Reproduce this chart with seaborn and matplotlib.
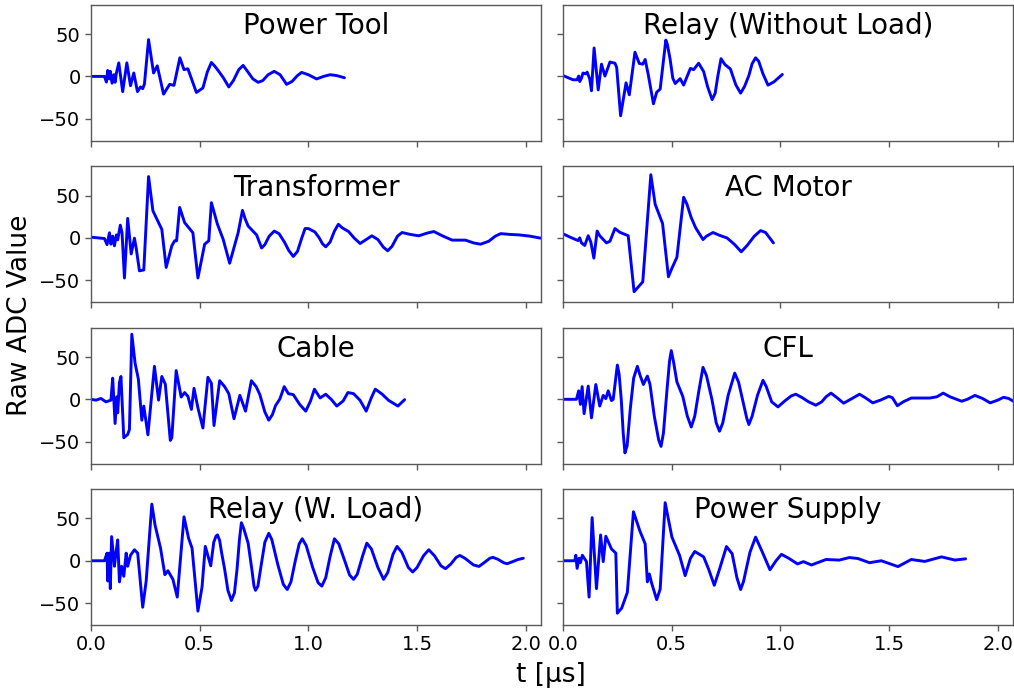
import matplotlib
matplotlib.use("Agg")
import matplotlib.pyplot as plt
import seaborn as sns
import numpy as np

# ---------------- data ----------------
titles = ["Power Tool", "Relay (Without Load)", "Transformer", "AC Motor",
          "Cable", "CFL", "Relay (W. Load)", "Power Supply"]

power_tool_t = [0, 0.062, 0.071, 0.077, 0.085, 0.089, 0.097, 0.105, 0.111, 0.117, 0.128, 0.146,
                0.165, 0.182, 0.197, 0.214, 0.228, 0.238, 0.246, 0.265, 0.288, 0.305, 0.334,
                0.362, 0.382, 0.409, 0.428, 0.446, 0.485, 0.515, 0.535, 0.554, 0.57, 0.585,
                0.61, 0.634, 0.655, 0.68, 0.70, 0.72, 0.745, 0.769, 0.79, 0.815, 0.843,
                0.87, 0.90, 0.925, 0.95, 0.969, 1.0, 1.038, 1.07, 1.10, 1.13, 1.166]
power_tool_y = [0, 0, -6.7, 7, -3, 6, -8, 2, -7, 4, 16, -18,
                16, -11, 4, -18, -12.5, -14.5, -9, 43.5, 4, 12.5, -21,
                -9.4, -10.6, 22, 8, 9, -19, -13.7, 5, 16.5, 12, 7,
                -2, -12.5, -5, 8, 13, 6, -3, -7, -5, 2, 6,
                2, -9.4, -6, 1, 4.7, 2, -3, 0, 2, 1, -1.6]

relay_nl_t = [0, 0.023, 0.046, 0.065, 0.072, 0.077, 0.085, 0.092, 0.105, 0.111, 0.123, 0.131,
              0.143, 0.162, 0.177, 0.193, 0.216, 0.239, 0.247, 0.265, 0.29, 0.305, 0.331,
              0.351, 0.367, 0.378, 0.393, 0.416, 0.431, 0.447, 0.473, 0.48, 0.493, 0.505,
              0.516, 0.539, 0.555, 0.586, 0.601, 0.624, 0.647, 0.665, 0.686, 0.70, 0.712,
              0.727, 0.745, 0.77, 0.795, 0.817, 0.835, 0.855, 0.87, 0.886, 0.90, 0.92,
              0.943, 0.97, 1.009]
relay_nl_y = [1, -1.5, -4, -4, 0.4, -6, -2, 4, 3, 5, -3, -17,
              33.6, -16, 14.5, 0.4, 17, 15.6, 10.5, -46.6, -7.6, -21.8, 28.6,
              15.3, 14.5, 20, 1, -32.4, -18.7, -15, 43, 38, 20, -2,
              -8.4, -2.7, -10.3, 9.5, 8, 15.6, 5.7, -12, -27.5, -20, 0,
              21, 14, 8.8, -10, -19.8, -12, 1, 15, 22, 18, 3,
              -10.3, -6.5, 2.3]

transformer_t = [0, 0.062, 0.074, 0.085, 0.092, 0.1, 0.108, 0.117, 0.123, 0.135, 0.143, 0.154,
                 0.169, 0.185, 0.2, 0.208, 0.223, 0.243, 0.265, 0.285, 0.326, 0.346, 0.372,
                 0.385, 0.394, 0.408, 0.431, 0.469, 0.492, 0.523, 0.542, 0.554, 0.582, 0.608,
                 0.638, 0.677, 0.697, 0.71, 0.723, 0.745, 0.762, 0.785, 0.80, 0.82, 0.843,
                 0.865, 0.89, 0.91, 0.931, 0.95, 0.97, 0.985, 1.0, 1.03, 1.05, 1.065,
                 1.08, 1.10, 1.12, 1.138, 1.155, 1.185, 1.21, 1.238, 1.26, 1.292, 1.32,
                 1.345, 1.365, 1.385, 1.41, 1.431, 1.47, 1.508, 1.545, 1.577, 1.62, 1.662,
                 1.723, 1.76, 1.792, 1.83, 1.86, 1.885, 1.93, 1.969, 2.02, 2.069]
transformer_y = [0.8, -0.8, -8, 6, -7.5, 2, -9.4, 3.5, -2.4, 15, 6, -47.5,
                 23, -19, -0.4, -12, -39, -38, 72.5, 32, 10, -35, -9.4,
                 -3.5, -3.5, 36, 18, 6, -47.5, -7.5, -3.5, 41.6, 16, -1.6,
                 -30, 6, 32.5, 22, 14, 8, 3.5, -12, -8, 2, 8,
                 5, -5, -15, -22, -16, 0, 11, 11, 7, 0, -7,
                 -10.6, -5, 8, 16, 12, 7.5, 0, -6.7, -3, 2.4, -2,
                 -11, -15.3, -10, 2, 6.3, 4, 2.4, 5.5, 7.5, 2, -2.7,
                 -2.7, -6, -7.5, -4, 2, 5, 4, 3.5, 2, -0.4]

ac_motor_t = [0, 0.031, 0.069, 0.077, 0.085, 0.1, 0.116, 0.128, 0.142, 0.157, 0.169, 0.2,
              0.216, 0.239, 0.262, 0.30, 0.327, 0.367, 0.404, 0.424, 0.458, 0.485, 0.501,
              0.524, 0.555, 0.57, 0.589, 0.61, 0.644, 0.66, 0.69, 0.72, 0.755, 0.79,
              0.82, 0.847, 0.88, 0.909, 0.932, 0.968]
ac_motor_y = [4.8, 1, -3.2, 0, -6, -9, 2.5, -5, -24, 8, 2.5, -6,
              -4, 11, 6.5, 2.5, -63.7, -52, 74.7, 39.7, 17, -46, -36,
              -23, 48, 40, 24.5, 12, -2, 2, 6.3, 3, -0.2, -8,
              -16.5, -9, 2, 8.6, 6.3, -6]

cable_t = [0, 0.023, 0.046, 0.069, 0.092, 0.1, 0.111, 0.119, 0.123, 0.131, 0.138, 0.151,
           0.169, 0.177, 0.188, 0.203, 0.218, 0.234, 0.243, 0.262, 0.292, 0.311, 0.326,
           0.342, 0.365, 0.372, 0.392, 0.415, 0.431, 0.446, 0.462, 0.474, 0.492, 0.515,
           0.538, 0.554, 0.566, 0.592, 0.615, 0.634, 0.658, 0.685, 0.711, 0.738, 0.76,
           0.777, 0.80, 0.818, 0.835, 0.849, 0.869, 0.889, 0.908, 0.931, 0.96, 0.988,
           1.01, 1.028, 1.054, 1.08, 1.105, 1.131, 1.16, 1.182, 1.208, 1.238, 1.266,
           1.29, 1.308, 1.34, 1.369, 1.412, 1.443]
cable_y = [0, -1, 1, -3, -1, 25, -28.6, 3, -16, 20, 27, -45.5,
           -41.6, -35.7, 77, 42.7, 24, -24.7, -8, -42, 39, -1, 27,
           18, -48.6, -45.5, 34, 2.7, 8, 3.5, -12, 13, -10, -34,
           26, 19, -31, 22, 15, 6.7, -23, 4.7, -14, 22, 15,
           5.5, -15, -24.7, -18, -7.5, 0.4, 15, 6.7, 5.5, -6, -14,
           -2, 12, 1.6, 6, 0, -8, -2, 8, 6.7, -1.2, -14,
           2, 12, 6, -1.2, -8, -0.4]

cfl_t = [0, 0.062, 0.072, 0.08, 0.088, 0.097, 0.116, 0.131, 0.151, 0.169, 0.185, 0.197,
         0.208, 0.223, 0.231, 0.25, 0.258, 0.268, 0.277, 0.285, 0.295, 0.31, 0.325,
         0.342, 0.355, 0.37, 0.388, 0.40, 0.42, 0.44, 0.451, 0.462, 0.478, 0.49,
         0.498, 0.508, 0.524, 0.551, 0.572, 0.59, 0.606, 0.625, 0.644, 0.66, 0.685,
         0.705, 0.72, 0.735, 0.76, 0.79, 0.808, 0.83, 0.845, 0.855, 0.87, 0.895,
         0.92, 0.935, 0.96, 0.989, 1.02, 1.05, 1.071, 1.10, 1.13, 1.163, 1.19,
         1.21, 1.233, 1.26, 1.291, 1.33, 1.364, 1.39, 1.425, 1.46, 1.498, 1.515,
         1.538, 1.565, 1.602, 1.687, 1.72, 1.749, 1.78, 1.834, 1.86, 1.895, 1.93,
         1.965, 2.0, 2.026, 2.05, 2.072]
cfl_y = [0, 0, 10, -6, 15, -17, 15.6, -22, 17.5, -8, 4.6, 0.8,
         10, -1.5, 0, 40.5, 30, 0, -40, -63.4, -55, -10, 25,
         39, 28, 17.5, 27.5, 18, -20, -48, -55.7, -40, 10, 45,
         57.6, 45, 20.6, 3.4, -20, -32.8, -20, 10, 37.8, 28, 0,
         -28, -37.8, -28, 5, 31, 20, -5, -22, -29.8, -20, 5,
         22.5, 15, -3, -9, -2, 4, 6, 2, -3, -7, -3,
         3, 7.3, 2, -4.6, 1, 6, 2, -4.2, -1, 3.4, 2,
         -7.6, -3, 1.5, 1.5, 3, 7.3, 3, -2.3, 0, 4.6, 1,
         -4.2, -1, 2.3, 1, -2.3]

relay_wl_t = [0, 0.062, 0.074, 0.077, 0.085, 0.089, 0.095, 0.108, 0.115, 0.123, 0.131, 0.141,
              0.151, 0.162, 0.169, 0.182, 0.20, 0.215, 0.238, 0.254, 0.28, 0.295, 0.32,
              0.34, 0.354, 0.377, 0.397, 0.428, 0.449, 0.465, 0.492, 0.511, 0.526, 0.551,
              0.565, 0.575, 0.582, 0.592, 0.60, 0.615, 0.63, 0.646, 0.66, 0.672, 0.683,
              0.692, 0.703, 0.723, 0.74, 0.75, 0.757, 0.768, 0.785, 0.80, 0.818, 0.832,
              0.86, 0.885, 0.903, 0.92, 0.94, 0.958, 0.972, 0.99, 1.02, 1.045, 1.062,
              1.08, 1.10, 1.12, 1.14, 1.17, 1.19, 1.208, 1.225, 1.25, 1.269, 1.29,
              1.32, 1.346, 1.365, 1.39, 1.408, 1.43, 1.46, 1.48, 1.50, 1.53, 1.554,
              1.58, 1.61, 1.631, 1.655, 1.68, 1.697, 1.72, 1.76, 1.785, 1.81, 1.835,
              1.849, 1.87, 1.90, 1.915, 1.94, 1.965, 1.989]
relay_wl_y = [0, 0, 9, -24, 9, -33, 28.6, -6.5, 9, 24.7, -25, -6.5,
              -18.4, 9, -6.5, 6.5, 13, 9, -55, -24, 67, 42, 15,
              -16.5, -11.8, -22, -43, 52, 26.7, 15, -59.6, -31, 17, -6,
              22, 29, 30.6, 24, 11, -10, -35, -47, -38, -10, 25,
              45, 38, 20.8, -10, -30, -35, -30, -2, 22, 32.5, 25,
              -5, -28, -34, -25, 0, 20, 26, 18, -8, -26, -30,
              -20, 5, 26, 20, -2, -17, -22, -16, 6, 20.8, 14,
              -8, -22, -14, 8, 17, 10, -8, -13.3, -8, 6, 13,
              6, -6, -9.4, -4, 4, 6.3, 3, -5, -6.7, -2, 3,
              4, 2, -2.5, -3.5, -1, 1.5, 3]

power_supply_t = [0, 0.054, 0.059, 0.065, 0.074, 0.08, 0.089, 0.108, 0.12, 0.134, 0.154, 0.173,
                  0.185, 0.197, 0.223, 0.243, 0.25, 0.27, 0.296, 0.324, 0.354, 0.378, 0.388,
                  0.397, 0.408, 0.431, 0.447, 0.47, 0.501, 0.536, 0.562, 0.586, 0.606, 0.647,
                  0.67, 0.696, 0.72, 0.752, 0.778, 0.80, 0.817, 0.83, 0.86, 0.886, 0.90,
                  0.917, 0.952, 0.98, 1.005, 1.04, 1.079, 1.106, 1.143, 1.21, 1.271, 1.317,
                  1.356, 1.41, 1.464, 1.541, 1.602, 1.664, 1.741, 1.803, 1.852]
power_supply_y = [0, 0, 6.5, -9, 3, -2.3, 6.5, -1, -43, 51, -33, 30.5,
                  -1, 29, 14, 9, -62, -56, -37.4, 58, 35, 20, -25,
                  -15.6, -26.7, -46, -33.6, 68.7, 28, 6.5, -17.6, 2.7, 11, 4.6,
                  -10, -29, -10, 16.8, 8.4, -20, -34, -25, 10, 28, 20,
                  10.3, -10.7, 0, 7.6, 2.7, -3.8, -1, -5, 1.5, 0.8, 3.8,
                  2.7, -2.3, 0, -6.9, 1.5, -0.8, 4.6, 0.8, 2.3]

series_t = [power_tool_t, relay_nl_t, transformer_t, ac_motor_t,
            cable_t, cfl_t, relay_wl_t, power_supply_t]
series_y = [power_tool_y, relay_nl_y, transformer_y, ac_motor_y,
            cable_y, cfl_y, relay_wl_y, power_supply_y]

x_ticks = [0.0, 0.5, 1.0, 1.5, 2.0]
y_ticks = [-50, 0, 50]

# ---------------- plotting ----------------
sns.set_style("ticks")
plt.rcParams['font.family'] = ['DejaVu Sans']
plt.rcParams['text.color'] = 'black'
plt.rcParams['axes.labelcolor'] = 'black'
plt.rcParams['axes.edgecolor'] = '0.35'
plt.rcParams['xtick.color'] = '0.35'
plt.rcParams['ytick.color'] = '0.35'
plt.rcParams['xtick.labelcolor'] = 'black'
plt.rcParams['ytick.labelcolor'] = 'black'

fig, axes = plt.subplots(4, 2, figsize=(10.14, 6.9), dpi=100, sharex=True, sharey=True)
fig.subplots_adjust(left=0.0897, right=0.999, top=0.9928, bottom=0.0942,
                    hspace=0.19, wspace=0.049)

for i, ax in enumerate(axes.flat):
    sns.lineplot(x=np.array(series_t[i]), y=np.array(series_y[i]), ax=ax,
                 color='#0000ff', linewidth=2.1, sort=False)
    ax.text(0.5, 0.785, titles[i], transform=ax.transAxes, ha='center',
            va='baseline', fontsize=20, color='black')
    ax.set_xlabel('')
    ax.set_ylabel('')
    ax.tick_params(labelsize=14, width=1, length=4)
    for sp in ax.spines.values():
        sp.set_visible(True)
        sp.set_linewidth(1)

axes[0, 0].set_xlim(0, 2.07)
axes[0, 0].set_ylim(-76, 84.5)
axes[0, 0].set_xticks(x_ticks)
axes[0, 0].set_yticks(y_ticks)

fig.text(0.543, 0.022, 't [µs]', ha='center', va='center', fontsize=19, color='black')
fig.text(0.02, 0.543, 'Raw ADC Value', ha='center', va='center', rotation=90,
         fontsize=19, color='black')

fig.savefig('out.png', dpi=100)
